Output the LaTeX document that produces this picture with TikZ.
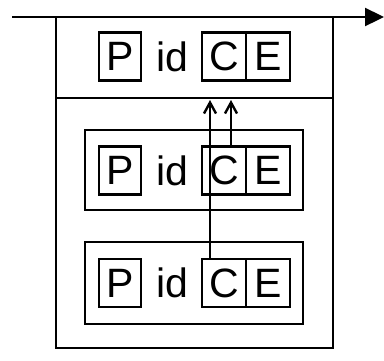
\documentclass[tikz,border=0pt]{standalone}
\usepackage{fontspec}
\setmainfont{Liberation Sans}
\usetikzlibrary{arrows.meta}
\begin{document}
\begin{tikzpicture}[x=1pt,y=-1pt,
  line width=2.4pt,
  lbl/.style={font=\fontsize{41}{41}\selectfont, inner sep=0pt},
  cell/.style={lbl, draw, minimum width=42pt, minimum height=48pt},
  idtxt/.style={lbl},
  up/.style={-{Straight Barb[length=11pt,width=12pt,line width=2.4pt]}}]
\useasboundingbox (0,0) rectangle (384,360);
% top line with arrow
\coordinate (L0) at (12,17);
\coordinate (L1) at (384,17);
\draw[-{Triangle[length=19pt,width=18pt]}] (L0) -- (L1);
% outer box
\node[draw, minimum width=277pt, minimum height=331pt, inner sep=0pt] (outer) at (194.5,182.5) {};
\coordinate (d0) at (56,98);
\coordinate (d1) at (333,98);
\draw (d0) -- (d1);
% inner boxes
\node[draw, minimum width=218pt, minimum height=80pt, inner sep=0pt] (mid) at (194,170) {};
\node[draw, minimum width=218pt, minimum height=82pt, inner sep=0pt] (bot) at (194,283) {};
% rows
\foreach \r/\y in {1/56.5, 2/170.5, 3/283} {
  \node[cell] (p\r) at (120,\y) {P};
  \node[idtxt] (id\r) at (172,\y) {id};
  \node[cell, minimum width=44pt] (c\r) at (224,\y) {C};
  \node[cell, minimum width=44pt] (e\r) at (268,\y) {E};
}
% arrows
\coordinate (t1) at (210,100);
\coordinate (t2) at (231,100);
\draw[up] (c3.north -| t1) -- (t1);
\draw[up] (c2.north -| t2) -- (t2);
\end{tikzpicture}
\end{document}
